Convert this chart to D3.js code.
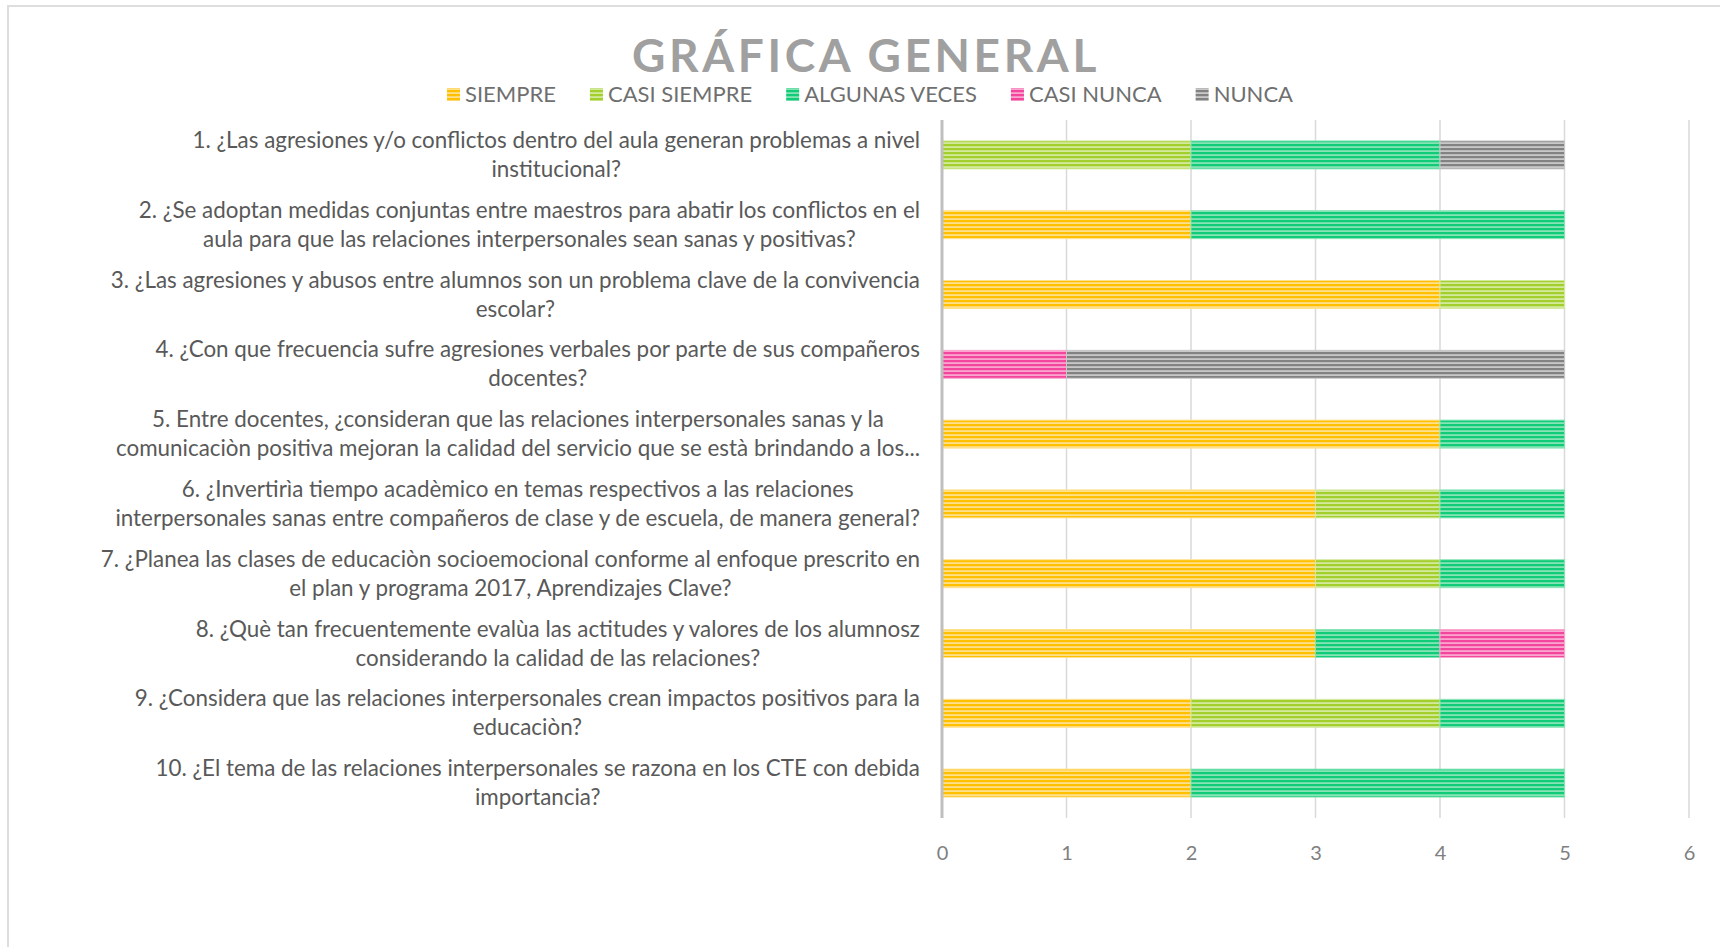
<!DOCTYPE html>
<html lang="es">
  <head>
    <meta charset="UTF-8">
    <script src="https://cdn.jsdelivr.net/npm/d3@7"></script>
    <style>
      body { margin: 0; background: #fff; }
      text { font-family: Lato, 'Open Sans', sans-serif; }
    </style>
    <title>Gráfica general</title>
  </head>
  <body>
    <script>
      // Horizontal stacked bars, one per question

      const w = 1720;
      const h = 947;

      const categories = [
        ['1. ¿Las agresiones y/o conflictos dentro del aula generan problemas a nivel', 'institucional?'],
        ['2. ¿Se adoptan medidas conjuntas entre maestros para abatir los conflictos en el', 'aula para que las relaciones interpersonales sean sanas y positivas?'],
        ['3. ¿Las agresiones y abusos entre alumnos son un problema clave de la convivencia', 'escolar?'],
        ['4. ¿Con que frecuencia sufre agresiones verbales por parte de sus compañeros', 'docentes?'],
        ['5. Entre docentes, ¿consideran que las relaciones interpersonales sanas y la', 'comunicaciòn positiva mejoran la calidad del servicio que se està brindando a los...'],
        ['6. ¿Invertirìa tiempo acadèmico en temas respectivos a las relaciones', 'interpersonales sanas entre compañeros de clase y de escuela, de manera general?'],
        ['7. ¿Planea las clases de educaciòn socioemocional conforme al enfoque prescrito en', 'el plan y programa 2017, Aprendizajes Clave?'],
        ['8. ¿Què tan frecuentemente evalùa las actitudes y valores de los alumnosz', 'considerando la calidad de las relaciones?'],
        ['9. ¿Considera que las relaciones interpersonales crean impactos positivos para la', 'educaciòn?'],
        ['10. ¿El tema de las relaciones interpersonales se razona en los CTE con debida', 'importancia?']
      ];

      const seriesNames = ['SIEMPRE', 'CASI SIEMPRE', 'ALGUNAS VECES', 'CASI NUNCA', 'NUNCA'];
      const siempre      = [0, 2, 4, 0, 4, 3, 3, 3, 2, 2];
      const casiSiempre  = [2, 0, 1, 0, 0, 1, 1, 0, 2, 0];
      const algunasVeces = [2, 3, 0, 0, 1, 1, 1, 1, 1, 3];
      const casiNunca    = [0, 0, 0, 1, 0, 0, 0, 1, 0, 0];
      const nunca        = [1, 0, 0, 4, 0, 0, 0, 0, 0, 0];
      const xTicks = [0, 1, 2, 3, 4, 5, 6];

      // dark stripe / light stripe
      const colors = [
        ['#ffc000', '#ffe08c'],
        ['#a3cf2c', '#d3e99c'],
        ['#10cc78', '#86e3b6'],
        ['#f2459b', '#f9a5cf'],
        ['#828282', '#c8c8c8']
      ];

      const allSeries = [siempre, casiSiempre, algunasVeces, casiNunca, nunca];
      const rows = categories.map((c, i) => {
        let r = { i: i };
        seriesNames.forEach((s, k) => r[s] = allSeries[k][i]);
        return r;
      });

      const stacked = d3.stack().keys(seriesNames)(rows);

      let xScale = d3.scaleLinear()
                      .domain([0, 6])
                      .range([942, 1689]);

      let yScale = d3.scaleBand()
                      .domain(d3.range(categories.length))
                      .range([120, 818])
                      .paddingInner(0.6)
                      .paddingOuter(0.3);

      let svg = d3.select('body')
                  .append('svg')
                  .attr('width', w)
                  .attr('height', h);

      // stripe patterns
      let defs = svg.append('defs');
      colors.forEach((c, k) => {
        let p = defs.append('pattern')
                    .attr('id', 'pat' + k)
                    .attr('patternUnits', 'userSpaceOnUse')
                    .attr('width', 4)
                    .attr('height', 4);
        p.append('rect').attr('width', 4).attr('height', 4).attr('fill', c[1]);
        p.append('rect').attr('width', 4).attr('height', 2.2).attr('fill', c[0]);
      });

      // chart border
      svg.append('rect')
          .attr('x', 8)
          .attr('y', 6)
          .attr('width', w + 20)
          .attr('height', h + 20)
          .attr('fill', 'none')
          .attr('stroke', '#dedede')
          .attr('stroke-width', 2);

      // title
      svg.append('text')
          .text('GRÁFICA GENERAL')
          .attr('x', 866)
          .attr('y', 72)
          .attr('text-anchor', 'middle')
          .attr('font-size', 46)
          .attr('font-weight', 'bold')
          .attr('letter-spacing', 3.6)
          .attr('fill', '#a0a0a0');

      // legend
      let legend = svg.append('g');
      let lx = 0;
      seriesNames.forEach((s, k) => {
        let g = legend.append('g').attr('transform', `translate(${lx},0)`);
        g.append('rect')
          .attr('x', 0)
          .attr('y', -6)
          .attr('width', 13)
          .attr('height', 13)
          .attr('fill', `url(#pat${k})`);
        let t = g.append('text')
                  .text(s)
                  .attr('x', 18)
                  .attr('y', 8)
                  .attr('font-size', 22)
                  .attr('fill', '#6f6f6f');
        lx += 18 + t.node().getComputedTextLength() + 34;
      });
      lx -= 34;
      legend.attr('transform', `translate(${870 - lx / 2},94)`);

      // gridlines
      svg.selectAll('line.grid')
          .data(xTicks.slice(1))
          .enter()
          .append('line')
          .attr('class', 'grid')
          .attr('x1', d => xScale(d))
          .attr('x2', d => xScale(d))
          .attr('y1', 120)
          .attr('y2', 818)
          .attr('stroke', '#d9d9d9')
          .attr('stroke-width', 1.5);

      // bars
      svg.selectAll('g.layer')
          .data(stacked)
          .enter()
          .append('g')
          .attr('class', 'layer')
          .attr('fill', (d, k) => `url(#pat${k})`)
          .attr('stroke', (d, k) => colors[k][1])
          .attr('stroke-width', 1)
          .selectAll('rect')
          .data(d => d.filter(v => v[1] > v[0]))
          .enter()
          .append('rect')
          .attr('x', d => xScale(d[0]))
          .attr('y', d => yScale(d.data.i))
          .attr('width', d => xScale(d[1]) - xScale(d[0]))
          .attr('height', yScale.bandwidth());

      // vertical axis line
      svg.append('line')
          .attr('x1', xScale(0))
          .attr('x2', xScale(0))
          .attr('y1', 120)
          .attr('y2', 818)
          .attr('stroke', '#bfbfbf')
          .attr('stroke-width', 3);

      // x axis labels
      let xAxis = svg.append('g')
                     .attr('transform', 'translate(0,818)')
                     .call(d3.axisBottom(xScale)
                             .tickValues(xTicks)
                             .tickFormat(d3.format('d'))
                             .tickSize(0)
                             .tickPadding(28));
      xAxis.select('.domain').remove();
      xAxis.selectAll('text')
           .attr('font-size', 20)
           .attr('font-family', 'Lato, sans-serif')
           .attr('fill', '#7f7f7f');

      // category labels, centred block right-aligned to the axis
      categories.forEach((lines, i) => {
        let cy = yScale(i) + yScale.bandwidth() / 2;
        let g = svg.append('g');
        let texts = lines.map((l, j) => g.append('text')
                                          .text(l)
                                          .attr('y', cy + (j - (lines.length - 1) / 2) * 29 + 7.5)
                                          .attr('text-anchor', 'middle')
                                          .attr('font-size', 22.4)
                                          .attr('fill', '#595959'));
        let maxW = d3.max(texts, t => t.node().getComputedTextLength());
        texts.forEach(t => t.attr('x', 920 - maxW / 2));
      });
    </script>
  </body>
</html>
